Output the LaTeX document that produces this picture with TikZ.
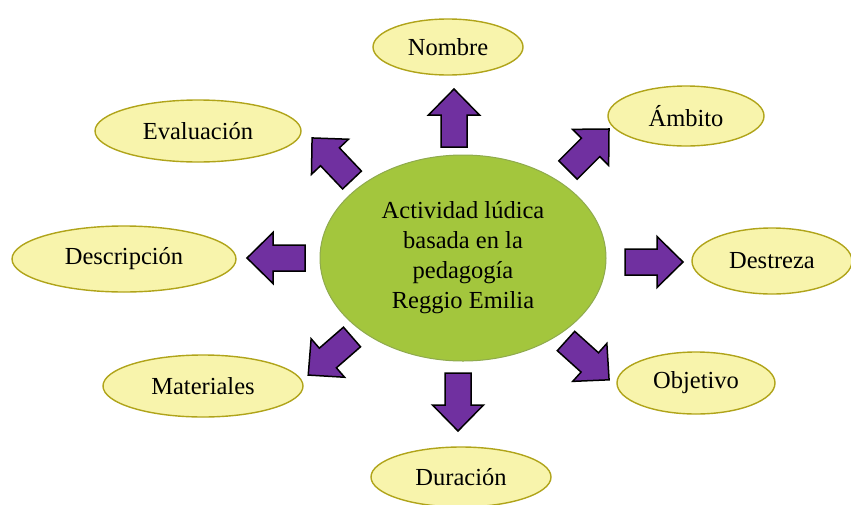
\documentclass[tikz,border=0pt]{standalone}
\usepackage{fontspec}
\setmainfont{Liberation Serif}
\usetikzlibrary{shapes.geometric}
\definecolor{leafyel}{HTML}{F8F4AC}
\definecolor{leafedge}{HTML}{B0A41A}
\definecolor{hubgreen}{HTML}{A3C63D}
\definecolor{hubedge}{HTML}{8FAA4E}
\definecolor{arrpurple}{HTML}{7030A0}
\tikzset{
  leaf/.style={ellipse, draw=leafedge, line width=1.4pt, fill=leafyel, inner sep=0pt,
    font=\fontsize{24.5}{30}\selectfont, text=black},
  hub/.style={ellipse, draw=hubedge, line width=1pt, fill=hubgreen, inner sep=0pt,
    font=\fontsize{24.5}{30}\selectfont, align=center, text=black},
  blockarr/.style={fill=arrpurple, draw=black, line width=1.5pt, line join=miter}
}
\newcommand{\blockarrow}[4]{% name, x, y (tail centre), angle (screen, counterclockwise)
  \begin{scope}[shift={(#2,#3)}, rotate=-#4]
    \coordinate (#1) at (0,0);
    \path[blockarr] (0,-13) -- (32,-13) -- (32,-25.5) -- (58,0) -- (32,25.5) -- (32,13) -- (0,13) -- cycle;
  \end{scope}}
\begin{document}
\begin{tikzpicture}[x=1pt,y=-1pt]
\useasboundingbox (0,0) rectangle (851,504);
\clip (0,0) rectangle (851,504);
\node[hub, minimum width=286pt, minimum height=206pt] (hub) at (463,258)
  {Actividad lúdica\\basada en la\\pedagogía\\Reggio Emilia};
\node[leaf, minimum width=150pt, minimum height=56pt] (nombre) at (448,47) {Nombre};
\node[leaf, minimum width=156pt, minimum height=60pt] (ambito) at (686,116) {Ámbito};
\node[leaf, minimum width=206pt, minimum height=62pt] (eval) at (198,131) {Evaluación};
\node[leaf, minimum width=224pt, minimum height=66pt] (desc) at (124,259) {Descripción};
\node[leaf, minimum width=160pt, minimum height=66pt] (destreza) at (772,261) {Destreza};
\node[leaf, minimum width=200pt, minimum height=62pt] (mat) at (203,386) {Materiales};
\node[leaf, minimum width=158pt, minimum height=62pt] (obj) at (696,383) {Objetivo};
\node[leaf, minimum width=180pt, minimum height=60pt] (dur) at (461,477) {Duración};
% block arrows (tail centre, direction)
\blockarrow{aN}{454}{147}{-90}
\blockarrow{aE}{352}{180}{-133.5}
\blockarrow{aA}{568}{170}{-45}
\blockarrow{aD}{305}{258}{180}
\blockarrow{aR}{625}{262}{0}
\blockarrow{aM}{352}{337}{139}
\blockarrow{aO}{566}{341}{42}
\blockarrow{aU}{458}{373}{90}
\end{tikzpicture}
\end{document}
